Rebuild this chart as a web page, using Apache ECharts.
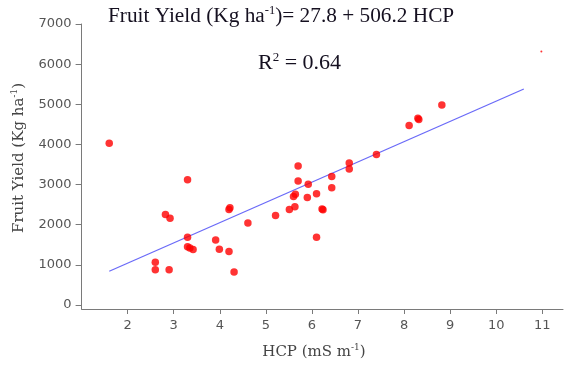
<!DOCTYPE html>
<html><head><meta charset="utf-8">
<script src="https://cdn.jsdelivr.net/npm/echarts@6/dist/echarts.min.js"></script>
<style>html,body{margin:0;padding:0;background:#fff}#c{width:564px;height:371px}</style>
</head><body><div id="c"></div>
<script>
const hcp = [1.6, 3.3, 2.82, 2.92, 2.6, 2.6, 2.9, 3.3, 3.3, 3.35, 3.42, 3.91, 3.99, 4.2, 4.2, 4.22, 4.31, 4.61, 5.21, 5.51, 5.63, 5.6, 5.64, 5.7, 5.7, 5.92, 5.9, 6.1, 6.1, 6.22, 6.24, 6.43, 6.43, 6.81, 6.81, 7.4, 8.11, 8.32, 8.3, 8.82];
const fruitYield = [4030, 3120, 2256, 2160, 1062, 880, 880, 1690, 1450, 1420, 1385, 1620, 1390, 1330, 2380, 2420, 820, 2040, 2230, 2380, 2450, 2700, 2760, 3460, 3090, 3010, 2680, 2770, 1690, 2390, 2370, 3200, 2920, 3540, 3390, 3750, 4470, 4620, 4650, 4980];
const outlierX = [10.98];
const outlierY = [6318];
const fitX = [1.6, 10.6];
const fitY = [840, 5380];
const xTicks = [2, 3, 4, 5, 6, 7, 8, 9, 10, 11];

const chart = echarts.init(document.getElementById('c'), null, {renderer: 'canvas'});
const serif = '"Liberation Serif", "Times New Roman", serif';
const dserif = '"DejaVu Serif", serif';
chart.setOption({
  animation: false,
  grid: {left: 81.6, right: 1, top: 24, bottom: 62},
  xAxis: {
    type: 'value', min: 1, max: 11.45, interval: 1,
    splitLine: {show: false},
    axisLine: {onZero: false, lineStyle: {color: '#7a7a7a', width: 1}},
    axisTick: {length: 5, lineStyle: {color: '#7a7a7a'}},
    axisLabel: {margin: 10, color: '#555', fontFamily: 'DejaVu Sans', fontSize: 13, showMinLabel: false, showMaxLabel: false,
      formatter: v => xTicks.includes(v) ? String(v) : ''}
  },
  yAxis: {
    type: 'value', min: -100, max: 7000, splitNumber: 7,
    splitLine: {show: false},
    axisLine: {show: true, onZero: false, lineStyle: {color: '#7a7a7a', width: 1}},
    axisTick: {show: true, length: 6, lineStyle: {color: '#7a7a7a'}},
    axisLabel: {margin: 10, color: '#555', fontFamily: 'DejaVu Sans', fontSize: 13, showMinLabel: false,
      formatter: v => v < 0 ? '' : String(v)}
  },
  graphic: [
    {type: 'text', x: 108, y: 16, style: {
      text: '{t|Fruit Yield (Kg ha}{s|-1}{t|)= 27.8 + 506.2 HCP}', align: 'left', verticalAlign: 'middle',
      rich: {t: {fontFamily: serif, fontSize: 21.3, fill: '#151020'}, s: {fontFamily: serif, fontSize: 12.5, fill: '#151020', padding: [0, 0, 10, 0]}}
    }},
    {type: 'text', x: 258, y: 63, style: {
      text: '{t|R}{s|2}{t| = 0.64}', align: 'left', verticalAlign: 'middle',
      rich: {t: {fontFamily: serif, fontSize: 22, fill: '#151020'}, s: {fontFamily: serif, fontSize: 13, fill: '#151020', padding: [0, 0, 10, 0]}}
    }},
    {type: 'text', x: 314, y: 352, style: {
      text: '{t|HCP (mS m}{s|-1}{t|)}', align: 'center', verticalAlign: 'middle',
      rich: {t: {fontFamily: dserif, fontSize: 15, fill: '#444'}, s: {fontFamily: dserif, fontSize: 9, fill: '#444', padding: [0, 0, 8, 0]}}
    }},
    {type: 'text', x: 19, y: 158, rotation: Math.PI / 2, style: {
      text: '{t|Fruit Yield (Kg ha}{s|-1}{t|)}', align: 'center', verticalAlign: 'middle',
      rich: {t: {fontFamily: dserif, fontSize: 15, fill: '#444'}, s: {fontFamily: dserif, fontSize: 9, fill: '#444', padding: [0, 0, 8, 0]}}
    }}
  ],
  series: [
    {type: 'line', data: fitX.map((x, i) => [x, fitY[i]]), symbol: 'none',
      lineStyle: {color: '#6a6af8', width: 1.3}, z: 2},
    {type: 'scatter', data: hcp.map((x, i) => [x, fruitYield[i]]), symbol: 'circle', symbolSize: 7.5,
      itemStyle: {color: '#ff0000'}, z: 3},
    {type: 'scatter', data: outlierX.map((x, i) => [x, outlierY[i]]), symbol: 'circle', symbolSize: 2,
      itemStyle: {color: '#ff0000'}, z: 3}
  ]
});
</script></body></html>
